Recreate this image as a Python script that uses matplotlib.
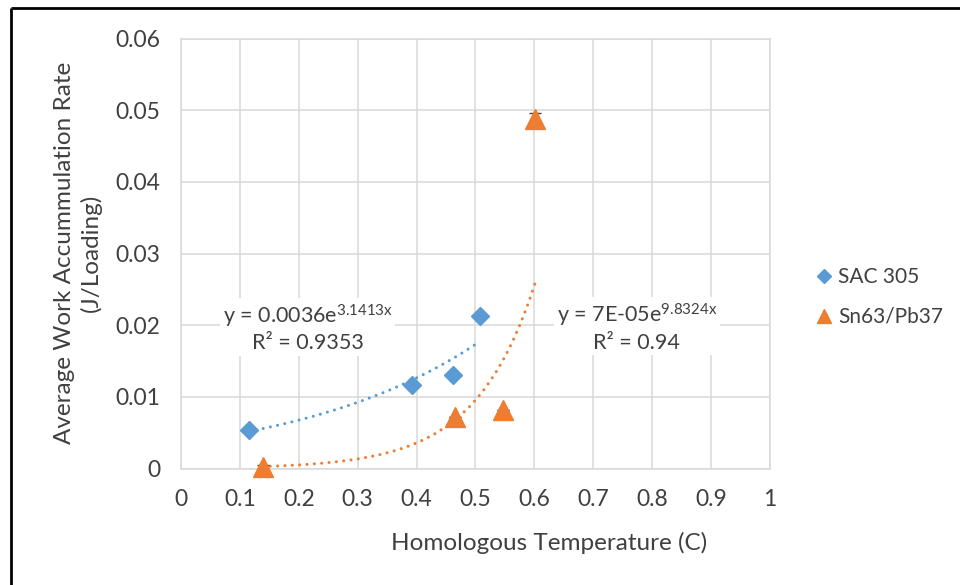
import numpy as np
import matplotlib
matplotlib.use("Agg")
import matplotlib.pyplot as plt
from matplotlib.lines import Line2D

plt.rcParams['font.family'] = ['Lato', 'DejaVu Sans']
plt.rcParams['mathtext.fontset'] = 'custom'
plt.rcParams['mathtext.rm'] = 'Lato'
plt.rcParams['mathtext.default'] = 'regular'

# ---- data ----
sac_x = [0.115, 0.392, 0.461, 0.507]
sac_y = [0.0054, 0.0117, 0.0131, 0.0213]
sn_x = [0.139, 0.465, 0.547, 0.601]
sn_y = [0.0002, 0.0072, 0.0081, 0.0488]
sn_err = [0.0003, 0.0, 0.0, 0.0008]

sac_a, sac_b = 0.0036, 3.1413
sn_a, sn_b = 7e-05, 9.8324

x_ticks = [0, 0.1, 0.2, 0.3, 0.4, 0.5, 0.6, 0.7, 0.8, 0.9, 1]
x_ticklabels = ['0', '0.1', '0.2', '0.3', '0.4', '0.5', '0.6', '0.7', '0.8', '0.9', '1']
y_ticks = [0, 0.01, 0.02, 0.03, 0.04, 0.05, 0.06]
y_ticklabels = ['0', '0.01', '0.02', '0.03', '0.04', '0.05', '0.06']

BLUE = '#5B9BD5'
ORANGE = '#ED7D31'
GRID = '#D9D9D9'
TEXT = '#404040'

W, H = 960, 585
fig = plt.figure(figsize=(W / 100, H / 100), dpi=100)
ax = fig.add_axes([181 / W, 1 - 468.5 / H, (770 - 181) / W, (468.5 - 38.5) / H])

ax.set_xlim(0, 1)
ax.set_ylim(0, 0.06)
ax.set_xticks(x_ticks)
ax.set_xticklabels(x_ticklabels)
ax.set_yticks(y_ticks)
ax.set_yticklabels(y_ticklabels)
ax.tick_params(length=0, labelsize=16.5, labelcolor=TEXT)
ax.tick_params(axis='y', pad=15)
ax.tick_params(axis='x', pad=15)
ax.grid(True, color=GRID, lw=1.1, zorder=0)
ax.set_axisbelow(True)
for s in ax.spines.values():
    s.set_color(GRID)
    s.set_linewidth(1.1)

# trendlines
xs1 = np.linspace(min(sac_x), max(sac_x), 200)
xs2 = np.linspace(min(sn_x), max(sn_x), 200)
ax.plot(xs1, sac_a * np.exp(sac_b * xs1), color=BLUE, lw=2.2,
        linestyle=(0, (0.01, 2.4)), dash_capstyle='round', zorder=2)
ax.plot(xs2, sn_a * np.exp(sn_b * xs2), color=ORANGE, lw=2.2,
        linestyle=(0, (0.01, 2.4)), dash_capstyle='round', zorder=2)

# error bars
eb = ax.errorbar(sn_x, sn_y, yerr=sn_err, fmt='none', ecolor='#404040',
                 elinewidth=1, capsize=4, capthick=1, zorder=3)
for art in eb.lines[1]:
    art.set_clip_on(False)

# points
ax.plot(sac_x, sac_y, linestyle='none', marker='D', ms=9.5, color=BLUE,
        mec=BLUE, zorder=4, label='SAC 305', clip_on=False)
ax.plot(sn_x, sn_y, linestyle='none', marker='^', ms=14, color=ORANGE,
        mec=ORANGE, zorder=4, label='Sn63/Pb37', clip_on=False)

# equation labels
ax.text(0.215, 0.0196, 'y = 0.0036e$^{3.1413x}$\nR\u00b2 = 0.9353',
        fontsize=15.5, color=TEXT, ha='center', va='center', linespacing=1.2,
        multialignment='center', zorder=5,
        bbox=dict(facecolor='white', edgecolor='none', pad=2))
ax.text(0.774, 0.0197, 'y = 7E-05e$^{9.8324x}$\nR\u00b2 = 0.94',
        fontsize=15.5, color=TEXT, ha='center', va='center', linespacing=1.2,
        multialignment='center', zorder=5,
        bbox=dict(facecolor='white', edgecolor='none', pad=2))

# legend
fig.legend(loc='center left', bbox_to_anchor=(805 / W, 1 - 297 / H),
           frameon=False, fontsize=15, labelcolor=TEXT, markerscale=0.7,
           handlelength=0.8, handletextpad=0.3, labelspacing=0.95,
           borderpad=0)

# axis titles
fig.text(78 / W, 1 - 253 / H, 'Average Work Accummulation Rate\n(J/Loading)',
         rotation=90, ha='center', va='center', multialignment='center',
         fontsize=17.5, color=TEXT, linespacing=1.3)
fig.text(549 / W, 1 - 543 / H, 'Homologous Temperature (C)',
         ha='center', va='center', fontsize=17.5, color=TEXT)

# outer frame (top and left)
fig.add_artist(Line2D([10.5 / W, 1], [1 - 8 / H, 1 - 8 / H], transform=fig.transFigure,
                      color='black', lw=2, solid_capstyle='butt'))
fig.add_artist(Line2D([11 / W, 11 / W], [0, 1 - 7.5 / H], transform=fig.transFigure,
                      color='black', lw=2, solid_capstyle='butt'))

fig.savefig('out.png', dpi=100)
